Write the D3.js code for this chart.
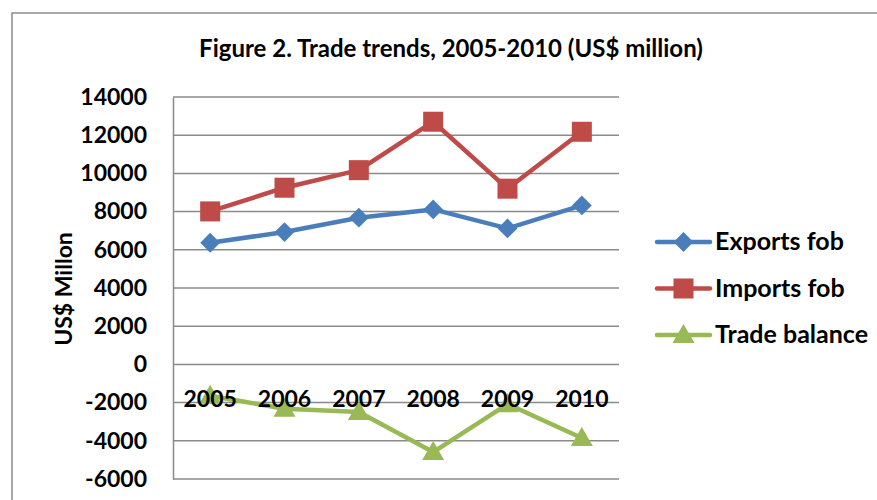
<!DOCTYPE html>
<html>
<head>
<meta charset="utf-8">
<script src="https://cdn.jsdelivr.net/npm/d3@7"></script>
<style>
  html, body { margin: 0; padding: 0; background: #fff; }
  svg { display: block; }
  text { font-family: Lato, "Open Sans", sans-serif; font-weight: bold; fill: #000; }
</style>
</head>
<body>
<svg id="chart" width="877" height="500"></svg>
<script>
// Trade series, US$ million
const years = ["2005", "2006", "2007", "2008", "2009", "2010"];
const exportsFob = [6370, 6930, 7680, 8115, 7120, 8325];
const importsFob = [8010, 9250, 10170, 12705, 9200, 12180];
const tradeBalance = [-1640, -2320, -2490, -4590, -2080, -3855];
const yTicks = [-6000, -4000, -2000, 0, 2000, 4000, 6000, 8000, 10000, 12000, 14000];
const seriesNames = ["Exports fob", "Imports fob", "Trade balance"];

const svg = d3.select("#chart");
const W = 877, H = 500;
const plot = { left: 173, right: 619, top: 97, bottom: 479 };

const x = d3.scaleBand().domain(years).range([plot.left, plot.right]).padding(0);
const y = d3.scaleLinear().domain([-6000, 14000]).range([plot.bottom, plot.top]);
const cx = d => x(d) + x.bandwidth() / 2;

// outer frame
svg.append("rect")
  .attr("x", 12).attr("y", 13)
  .attr("width", W).attr("height", H)
  .attr("fill", "none").attr("stroke", "#8c8c8c").attr("stroke-width", 1.5);

// title
svg.append("text")
  .attr("x", 451).attr("y", 57)
  .attr("text-anchor", "middle")
  .style("font-size", "24px")
  .text("Figure 2. Trade trends, 2005-2010 (US$ million)");

// gridlines
svg.append("g").selectAll("line").data(yTicks).join("line")
  .attr("x1", plot.left).attr("x2", plot.right)
  .attr("y1", d => y(d)).attr("y2", d => y(d))
  .attr("stroke", "#8a8a8a").attr("stroke-width", 1.5);

// y axis with tick labels (plain hyphen for negatives)
const yAxis = d3.axisLeft(y).tickValues(yTicks).tickSize(0).tickPadding(26).tickFormat(d => String(d));
const yg = svg.append("g").attr("transform", `translate(${plot.left},0)`).call(yAxis);
yg.select(".domain").attr("stroke", "#8a8a8a").attr("stroke-width", 1.5);
yg.selectAll("text").style("font-size", "23px").attr("font-family", null).attr("fill", "#000");

// y axis title
svg.append("text")
  .attr("transform", "translate(72,289) rotate(-90)")
  .attr("text-anchor", "middle")
  .style("font-size", "23px")
  .text("US$ Millon");

// series styling
const colors = ["#4a7ebb", "#be4b48", "#98b954"];
const marker = [
  // diamond: square turned 45 degrees
  g => g.append("rect").attr("x", -7).attr("y", -7).attr("width", 14).attr("height", 14).attr("transform", "rotate(45)"),
  g => g.append("rect").attr("x", -10).attr("y", -10).attr("width", 20).attr("height", 20),
  g => g.append("path").attr("d", "M0,-11L11,8L-11,8Z")
];
const data = [exportsFob, importsFob, tradeBalance];

const line = d3.line().x((d, i) => cx(years[i])).y(d => y(d));

data.forEach((vals, k) => {
  const g = svg.append("g");
  g.append("path").datum(vals)
    .attr("d", line)
    .attr("fill", "none")
    .attr("stroke", colors[k])
    .attr("stroke-width", 4.5)
    .attr("stroke-linejoin", "round");
  vals.forEach((v, i) => {
    const m = g.append("g").attr("transform", `translate(${cx(years[i])},${y(v)})`).attr("fill", colors[k]);
    marker[k](m);
  });
});

// category labels, drawn over the lines
svg.append("g").selectAll("text").data(years).join("text")
  .attr("x", d => cx(d))
  .attr("y", 407)
  .attr("text-anchor", "middle")
  .style("font-size", "23px")
  .text(d => d);

// legend
const lg = svg.append("g");
seriesNames.forEach((name, k) => {
  const ly = 242 + k * 46.5;
  lg.append("line")
    .attr("x1", 657).attr("x2", 710).attr("y1", ly).attr("y2", ly)
    .attr("stroke", colors[k]).attr("stroke-width", 4.5).attr("stroke-linecap", "round");
  const m = lg.append("g").attr("transform", `translate(683.5,${ly})`).attr("fill", colors[k]);
  marker[k](m);
  lg.append("text")
    .attr("x", 715).attr("y", ly + 8)
    .style("font-size", "25px")
    .text(name);
});
</script>
</body>
</html>
